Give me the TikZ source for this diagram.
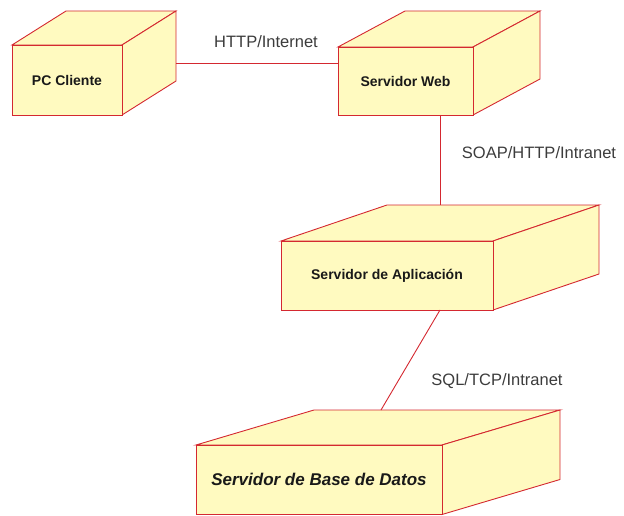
\documentclass[tikz,border=0pt]{standalone}
\usepackage{fontspec}
\setmainfont{Liberation Sans}
\definecolor{edgered}{RGB}{212,40,48}
\definecolor{boxfill}{RGB}{255,250,192}
\definecolor{labelgray}{RGB}{60,60,60}
\begin{document}
\begin{tikzpicture}[x=1pt,y=-1pt,
  front/.style={draw=edgered,fill=boxfill,line width=0.9pt,line join=miter,
    font=\bfseries\fontsize{14}{16}\selectfont,text=black!90,inner sep=0pt},
  face/.style={draw=edgered,fill=boxfill,line width=0.9pt,line join=miter},
  link/.style={draw=edgered,line width=0.9pt},
  linklabel/.style={font=\fontsize{16.5}{19}\selectfont,text=labelgray,inner sep=0pt}]
\useasboundingbox (0,0) rectangle (624,516);

% node box: front rectangle plus top and right faces offset by (dx,dy)
\newcommand{\nodebox}[7]{%
  % #1 name, #2 x1, #3 y1, #4 x2, #5 y2, #6 dx, #7 dy
  \path[face] (#2,#3) -- ++(#6,#7) -- ++({#4-#2},0) -- (#4,#3) -- cycle;
  \path[face] (#4,#3) -- ++(#6,#7) -- ++(0,{#5-#3}) -- (#4,#5) -- cycle;
  \coordinate (#1-bnw) at ({#2+#6},{#3+#7});
  \coordinate (#1-bne) at ({#4+#6},{#3+#7});
}

\nodebox{pc}{12}{45}{122}{115}{54}{-34}
\node[front,minimum width=110pt,minimum height=70pt] (pc) at (67,80) {PC Cliente};

\nodebox{web}{338}{47}{473}{115}{67}{-36}
\node[front,minimum width=135pt,minimum height=68pt] (web) at (405.5,81) {Servidor Web};

\nodebox{app}{281}{241}{493}{310}{106}{-36}
\node[front,minimum width=212pt,minimum height=69pt] (app) at (387,275.5) {Servidor de Aplicación};

\nodebox{db}{196}{445}{442}{514.5}{118}{-35}
\node[front,minimum width=246pt,minimum height=69.5pt,
  font=\bfseries\itshape\fontsize{17}{19}\selectfont] (db) at (319,479.75) {Servidor de Base de Datos};

% connector end points on the box faces
\coordinate (pcside) at (176,63);
\coordinate (webleft) at (web.west |- pcside);
\coordinate (webbottom) at (440,115);
\coordinate (apptop) at (440,205);
\coordinate (appbottom) at (440,310);
\coordinate (dbtop) at (381,410);

\draw[link] (pcside) -- (webleft);
\draw[link] (webbottom) -- (apptop);
\draw[link] (appbottom) -- (dbtop);

\node[linklabel] (l1) at (266,42) {HTTP/Internet};
\node[linklabel] (l2) at (539,153) {SOAP/HTTP/Intranet};
\node[linklabel] (l3) at (497,381) {SQL/TCP/Intranet};
\end{tikzpicture}
\end{document}
